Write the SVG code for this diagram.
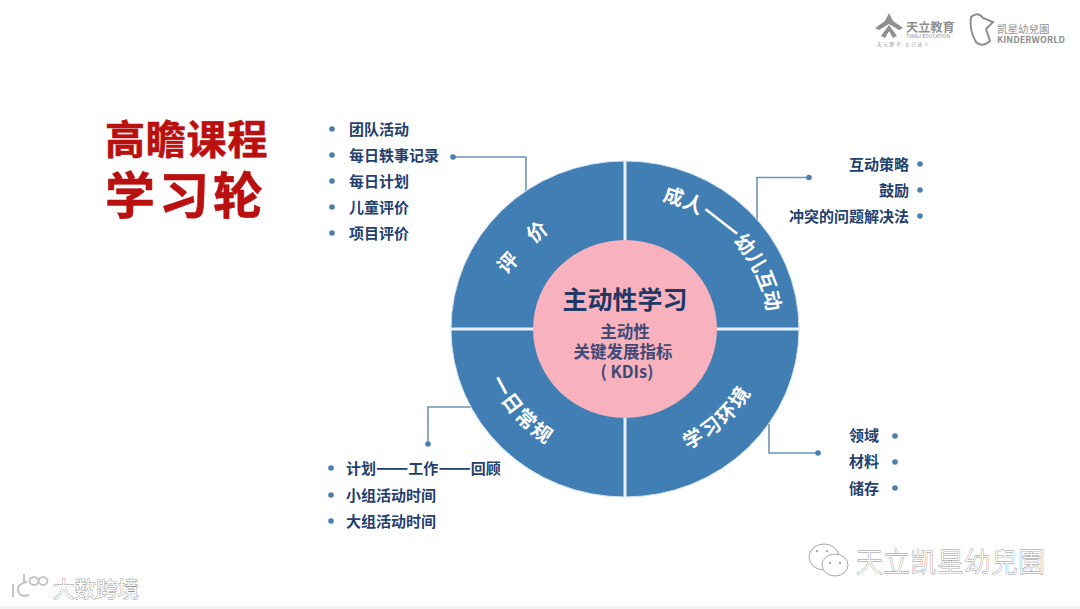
<svg xmlns="http://www.w3.org/2000/svg" width="1080" height="609" viewBox="0 0 1080 609">
<style>
text{font-family:"Noto Sans CJK SC","Liberation Sans",sans-serif}
.it{font-size:15px;font-weight:700;fill:#24406e}
.end{text-anchor:end}
.dot{fill:#4a7fae}
.ln{fill:none;stroke:#6f93b5;stroke-width:1.6}
.seg{font-size:20px;font-weight:700;fill:#fff}
.gap{letter-spacing:2px}
.title{font-weight:700;fill:#bb1010;stroke:#bb1010;stroke-width:.6}
.sub{font-size:16.500px;font-weight:700;fill:#404a75;text-anchor:middle}
.wm{fill:#fff;stroke:#8f8f8f;stroke-width:.8;paint-order:stroke}
</style>
<defs>
<path id="arcTR" d="M662 200.500A143 133 0 0 1 768 324"/>
<path id="arcBL" d="M490.600 380A145 137 0 0 0 575 457.700"/>
<path id="arcBR" d="M687.700 449.400A143 134 0 0 0 763 363.700"/>
</defs>
<rect width="1080" height="609" fill="#fff"/>
<rect y="606" width="1080" height="3" fill="#f2f2f2"/>

<g id="title">
<text class="title" x="105" y="154" font-size="40" letter-spacing=".8">高瞻课程</text>
<text class="title" x="105" y="214" font-size="50" letter-spacing="4">学习轮</text>
</g>

<g id="connectors">
<path class="ln" d="M453 157H526V192"/>
<path class="ln" d="M757 223V177.500H809"/>
<path class="ln" d="M428 444V407H472"/>
<path class="ln" d="M769 424V453H818"/>
</g>

<g id="wheel">
<ellipse cx="625" cy="329" rx="174" ry="168" fill="#417eb3" stroke="#cfe0ee" stroke-width="1"/>
<path d="M625 161V497M451 329H799" stroke="#e8f1f8" stroke-width="3" fill="none"/>
<ellipse cx="625" cy="329" rx="92" ry="89" fill="#f7b2bd"/>
</g>

<g id="center">
<text x="625" y="309" text-anchor="middle" font-size="25" font-weight="700" fill="#1f3864">主动性学习</text>
<text class="sub" x="625" y="338">主动性</text>
<text class="sub" x="623" y="358">关键发展指标</text>
<text class="sub" x="627" y="378">( KDIs)</text>
</g>

<g id="seg-eval">
<text class="seg" transform="translate(508 263) rotate(-47)" text-anchor="middle" y="7">评</text>
<text class="seg" transform="translate(537 232) rotate(-38)" text-anchor="middle" y="7">价</text>
</g>
<g id="seg-adult">
<text class="seg"><textPath href="#arcTR">成人<tspan font-size="25">——</tspan>幼儿互动</textPath></text>
</g>
<g id="seg-routine">
<text class="seg gap"><textPath href="#arcBL">一日常规</textPath></text>
</g>
<g id="seg-env">
<text class="seg gap"><textPath href="#arcBR">学习环境</textPath></text>
</g>

<g id="list-eval">
<circle class="dot" cx="332" cy="129" r="2.800"/><text class="it" x="349" y="134.500">团队活动</text>
<circle class="dot" cx="332" cy="155" r="2.800"/><text class="it" x="349" y="160.500">每日轶事记录</text>
<circle class="dot" cx="332" cy="181" r="2.800"/><text class="it" x="349" y="186.500">每日计划</text>
<circle class="dot" cx="332" cy="207" r="2.800"/><text class="it" x="349" y="212.500">儿童评价</text>
<circle class="dot" cx="332" cy="233" r="2.800"/><text class="it" x="349" y="238.500">项目评价</text>
<circle class="dot" cx="453" cy="157" r="2.800"/>
</g>
<g id="list-adult">
<text class="it end" x="909" y="169.500">互动策略</text><circle class="dot" cx="920" cy="164" r="2.800"/>
<text class="it end" x="909" y="195.500">鼓励</text><circle class="dot" cx="920" cy="190" r="2.800"/>
<text class="it end" x="909" y="221.500">冲突的问题解决法</text><circle class="dot" cx="920" cy="216" r="2.800"/>
<circle class="dot" cx="809" cy="177.500" r="2.800"/>
</g>
<g id="list-env">
<text class="it end" x="879" y="440.500">领域</text><circle class="dot" cx="895" cy="436" r="2.800"/>
<text class="it end" x="879" y="466.500">材料</text><circle class="dot" cx="895" cy="462" r="2.800"/>
<text class="it end" x="879" y="493.500">储存</text><circle class="dot" cx="895" cy="488" r="2.800"/>
<circle class="dot" cx="818" cy="453" r="2.800"/>
</g>
<g id="list-routine">
<circle class="dot" cx="331" cy="468" r="2.800"/><text class="it" x="346" y="473.500">计划<tspan font-size="19">——</tspan>工作<tspan font-size="19">——</tspan>回顾</text>
<circle class="dot" cx="331" cy="495" r="2.800"/><text class="it" x="346" y="500.500">小组活动时间</text>
<circle class="dot" cx="331" cy="521" r="2.800"/><text class="it" x="346" y="526.500">大组活动时间</text>
<circle class="dot" cx="428" cy="444" r="2.800"/>
</g>

<g id="logo-tianli" fill="#8f8f8f">
<path d="M889 13L893 21L903 28L899 30L889 24L879 30L875 28L885 21Z"/>
<path d="M889 25L897 36L893 38L889 31L885 38L881 36Z"/>
<text x="906" y="31.500" font-size="12.200" font-weight="700">天立教育</text>
<text x="906" y="38" font-size="5" font-family="Liberation Sans">TIANLI EDUCATION</text>
<text x="877" y="46" font-size="4.500" letter-spacing="1.800">天元野子  立己达人</text>
</g>
<g id="logo-kinder" fill="#8f8f8f">
<path d="M971 17Q978 11 983 18L993 22L986 29L990 41Q982 48 976 42Q969 30 971 17Z" fill="none" stroke="#8f8f8f" stroke-width="2"/>
<text x="997" y="32.500" font-size="10.500">凯星幼兒園</text>
<text x="997" y="43" font-size="9" font-weight="700" font-family="Liberation Sans" letter-spacing=".1">KINDERWORLD</text>
</g>

<g id="wm-kids">
<path d="M13 584V597M27 582Q17 584 18 590Q19 598 29 595M24 583V574M34 577a4.500 4 0 1 0 .1 0M43 577a4.500 4 0 1 0 .1 0" fill="none" stroke="#c4c4c4" stroke-width="2"/>
<text class="wm" x="53" y="597" font-size="21.500">大数跨境</text>
</g>
<g id="wm-wechat">
<ellipse cx="824" cy="557" rx="15" ry="13" fill="#fff" stroke="#a8a8a8"/>
<ellipse cx="835" cy="565" rx="13" ry="11" fill="#fff" stroke="#a8a8a8"/>
<circle cx="830" cy="563" r="1.200" fill="#a8a8a8"/><circle cx="840" cy="563" r="1.200" fill="#a8a8a8"/>
<circle cx="817" cy="551" r="1.200" fill="#a8a8a8"/><circle cx="827" cy="551" r="1.200" fill="#a8a8a8"/>
<text class="wm" x="856" y="572" font-size="27" font-weight="300">天立凯星幼兒園</text>
</g>
</svg>
